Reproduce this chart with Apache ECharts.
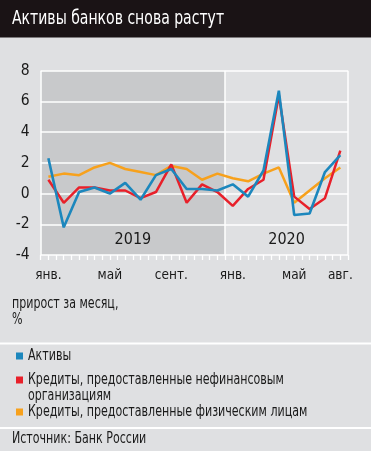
<!DOCTYPE html>
<html><head><meta charset="utf-8">
<script src="https://cdn.jsdelivr.net/npm/echarts@6/dist/echarts.min.js"></script>
<style>html,body{margin:0;padding:0;background:#dfe0e2;}#c{width:371px;height:451px;}</style>
</head><body><div id="c"></div>
<script>
const categories = ['2019-01','2019-02','2019-03','2019-04','2019-05','2019-06','2019-07','2019-08','2019-09','2019-10','2019-11','2019-12',
  '2020-01','2020-02','2020-03','2020-04','2020-05','2020-06','2020-07','2020-08'];
const monthLabels = ['янв.','','','','май','','','','сент.','','','','янв.','','','','май','','','авг.'];
const assets = [2.3, -2.2, 0.1, 0.4, 0.0, 0.7, -0.4, 1.2, 1.6, 0.3, 0.3, 0.2, 0.6, -0.2, 1.5, 6.7, -1.4, -1.3, 1.4, 2.5];
const corpLoans = [0.9, -0.6, 0.4, 0.4, 0.2, 0.2, -0.3, 0.1, 1.9, -0.6, 0.6, 0.1, -0.8, 0.3, 0.9, 6.4, -0.2, -1.0, -0.3, 2.8];
const retailLoans = [1.1, 1.3, 1.2, 1.7, 2.0, 1.6, 1.4, 1.2, 1.8, 1.6, 0.9, 1.3, 1.0, 0.8, 1.3, 1.7, -0.6, 0.2, 1.0, 1.7];
const yTicks = [-4, -2, 0, 2, 4, 6, 8];
const years = [{label:'2019', from:0, to:12}, {label:'2020', from:12, to:20}];
const seriesNames = ['Активы', 'Кредиты, предоставленные нефинансовым\nорганизациям', 'Кредиты, предоставленные физическим лицам'];
const colors = ['#1c87bd', '#e8202a', '#f7a11c'];
const titleText = 'Активы банков снова растут';
const unitText = 'прирост за месяц,\n%';
const sourceText = 'Источник: Банк России';

const FONT = "'Liberation Sans Narrow','DejaVu Sans Condensed','Roboto',sans-serif";
const chart = echarts.init(document.getElementById('c'), null, {renderer:'canvas'});

const SX = 0.82;
function txt(x, y, text, size, color, sx, lh) {
  return {type:'text', x:x, y:y, scaleX:sx, originX:0, originY:0,
    style:{text:text, font:size + 'px ' + FONT, fill:color, lineHeight:lh || size+1, textVerticalAlign:'top', textAlign:'left'}};
}

const legendTops = [356, 380, 412];
const legendGraphics = [];
seriesNames.forEach((n, i) => {
  legendGraphics.push({type:'rect', x:16, y:legendTops[i]-3.5, shape:{width:7,height:7}, style:{fill:colors[i]}});
  legendGraphics.push(txt(28, legendTops[i]-7.5, n, 15, '#1a1a1a', SX, 15.5));
});

chart.setOption({
  backgroundColor:'#dfe0e2',
  animation:false,
  grid:{left:40.7, right:23, top:70.7, bottom:196},
  xAxis:[
    {type:'category', data:categories, boundaryGap:true,
     axisLine:{show:false}, axisTick:{show:false}, splitLine:{show:false},
     axisLabel:{interval:0, margin:13, color:'#1a1a1a', fontSize:13.5, fontFamily:FONT,
       formatter:(v, i) => monthLabels[i]}},
    {type:'value', min:0, max:20, interval:0.5, position:'bottom',
     axisLine:{show:false}, splitLine:{show:false}, axisLabel:{show:false},
     axisTick:{show:true, length:5, lineStyle:{color:'#ffffff', width:1.3}}}
  ],
  yAxis:{type:'value', min:yTicks[0], max:yTicks[yTicks.length-1], interval:2,
    axisLine:{show:false}, axisTick:{show:false},
    splitLine:{show:false},
    axisLabel:{color:'#1a1a1a', fontSize:15.5, fontFamily:FONT, margin:11}},
  series:[
    {type:'line', xAxisIndex:1, data:[], z:1, silent:true,
     markArea:{silent:true, z:1, data:years.map((y, i) => [
       {xAxis:y.from, yAxis:yTicks[0], itemStyle:{color: i===0 ? '#c8c9cb' : 'rgba(0,0,0,0)'},
        label:{show:true, position:'insideBottom', distance:7, formatter:y.label, color:'#1a1a1a', fontSize:16, fontFamily:FONT}},
       {xAxis:y.to, yAxis:yTicks[yTicks.length-1]}])},
     markLine:{silent:true, z:2, symbol:'none', label:{show:false}, lineStyle:{color:'#ffffff', width:1.5, type:'solid'},
       data:[...yTicks.map(v => ({yAxis:v})), {xAxis:0},{xAxis:12},{xAxis:20}]}},
    {name:seriesNames[2], type:'line', data:retailLoans, symbol:'none', z:10, lineStyle:{color:colors[2], width:2.5}, itemStyle:{color:colors[2]}},
    {name:seriesNames[1], type:'line', data:corpLoans, symbol:'none', z:11, lineStyle:{color:colors[1], width:2.5}, itemStyle:{color:colors[1]}},
    {name:seriesNames[0], type:'line', data:assets, symbol:'none', z:12, lineStyle:{color:colors[0], width:2.6}, itemStyle:{color:colors[0]}}
  ],
  graphic:[
    {type:'rect', x:0, y:0, shape:{width:371, height:37.5}, style:{fill:'#1a1315'}},
    txt(12, 8, titleText, 20, '#ffffff', 0.78),
    txt(12, 296.5, unitText, 15, '#1a1a1a', SX, 16),
    {type:'rect', x:0, y:342.5, shape:{width:371, height:2}, style:{fill:'#ffffff'}},
    ...legendGraphics,
    {type:'rect', x:0, y:427, shape:{width:371, height:2}, style:{fill:'#ffffff'}},
    txt(12, 431.5, sourceText, 15, '#1a1a1a', SX)
  ]
});
</script></body></html>
